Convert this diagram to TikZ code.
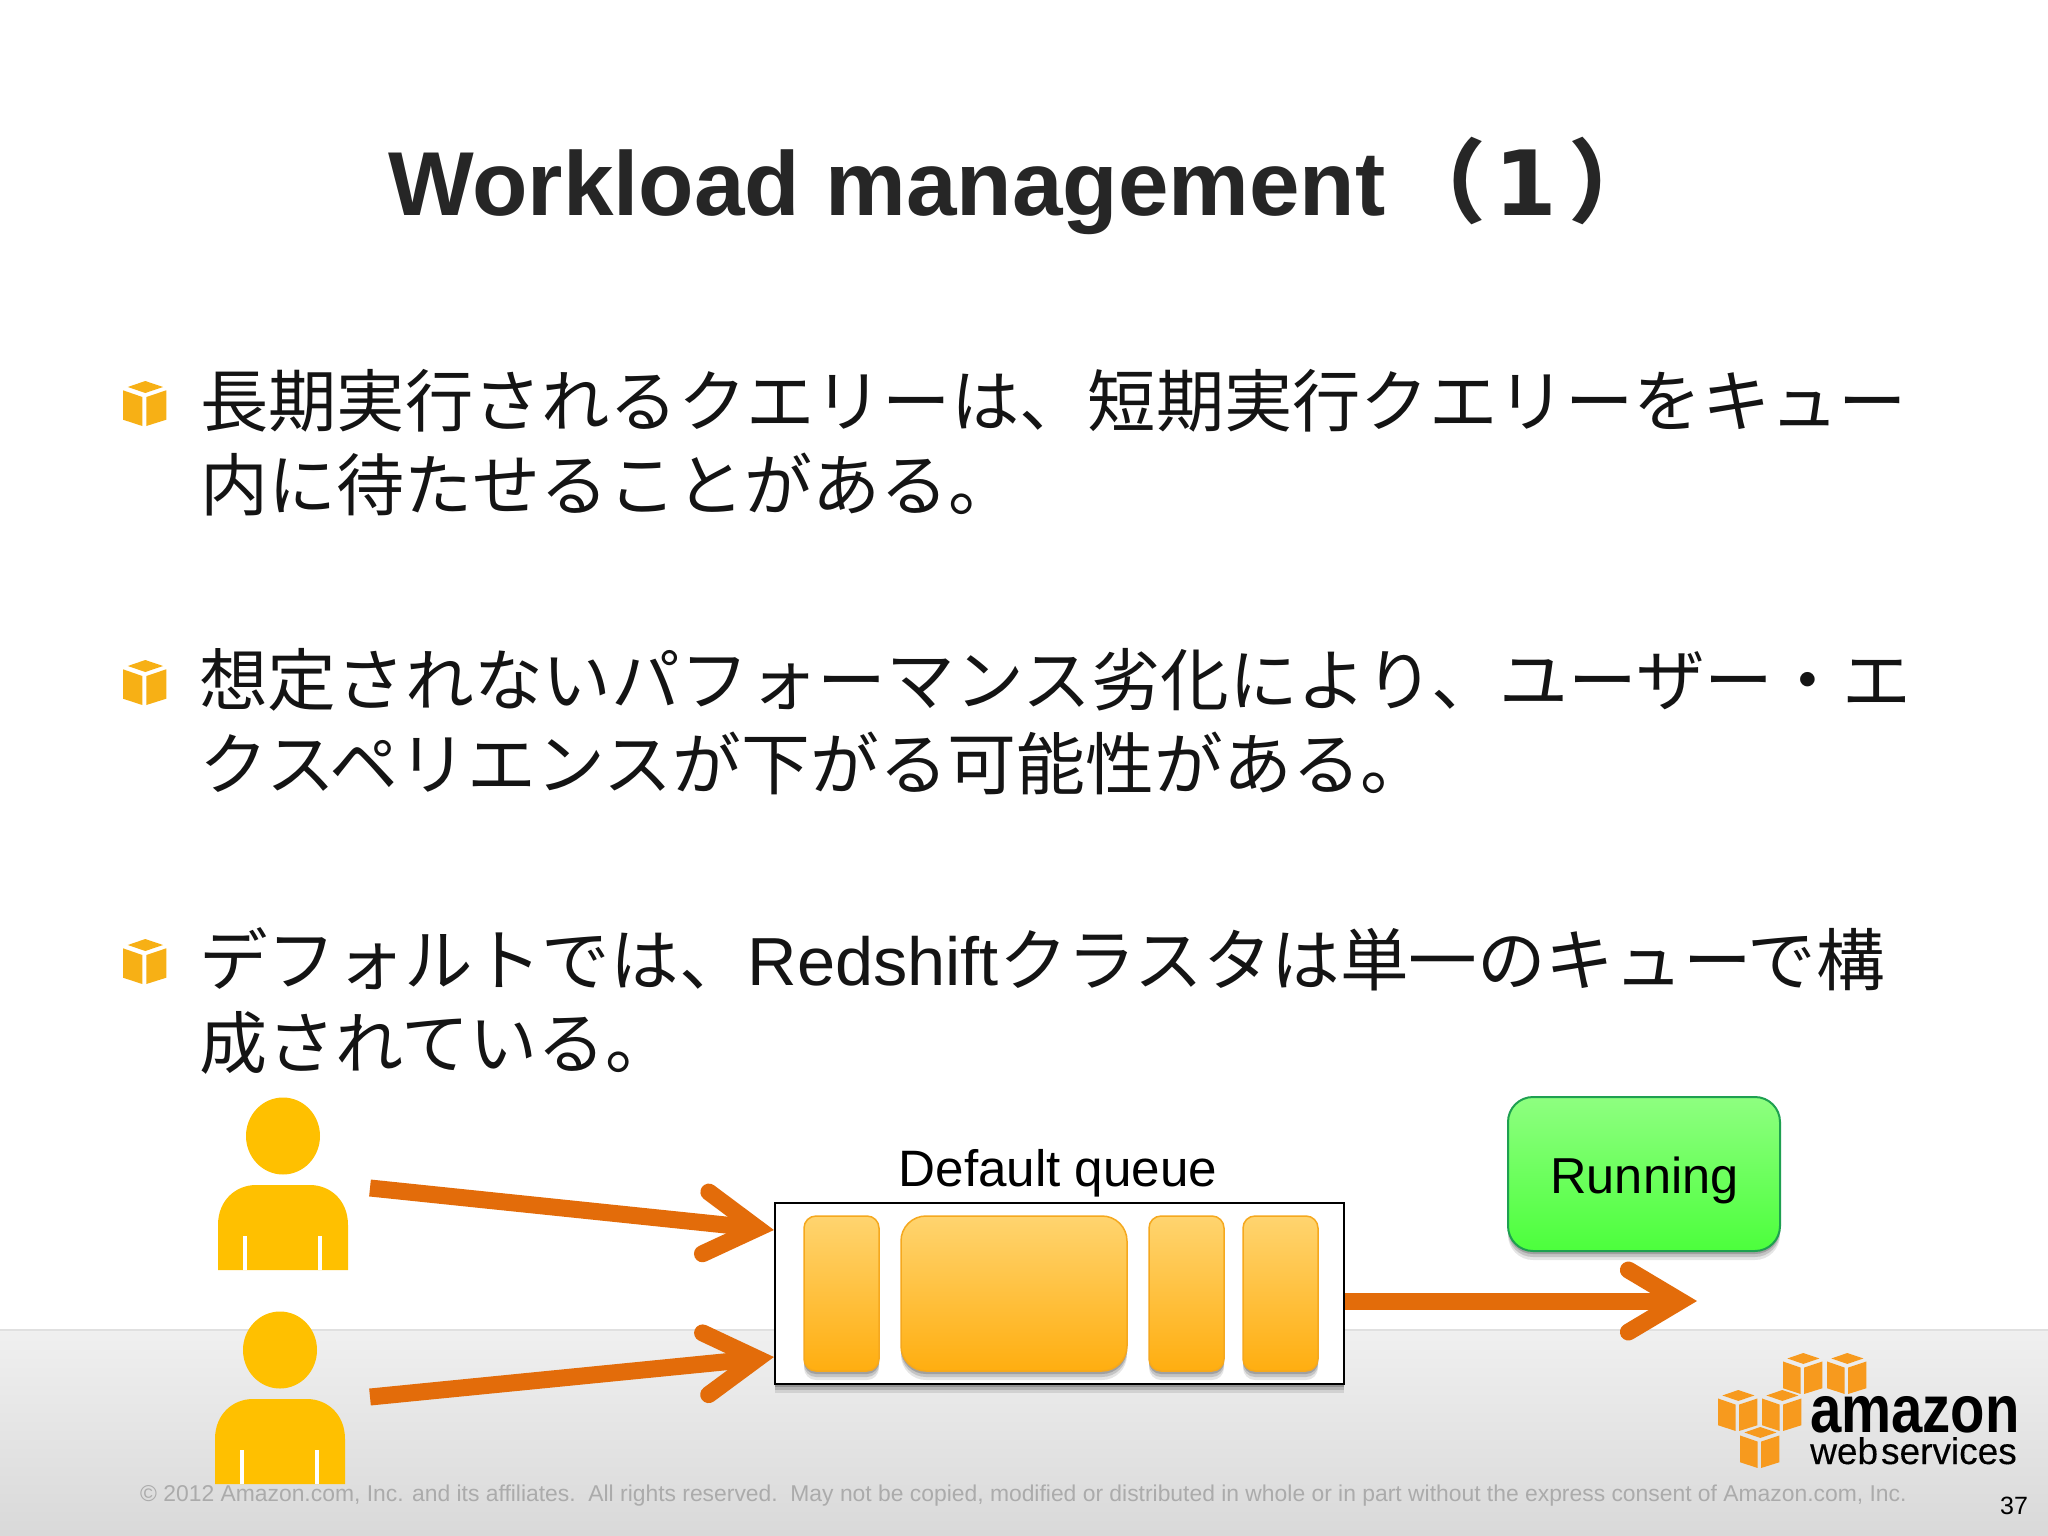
\documentclass[tikz,border=0pt]{standalone}
\usepackage{fontspec}
\setmainfont{Liberation Sans}
\newfontfamily\jpf{Noto Sans CJK JP}
\newfontfamily\numf{DejaVu Sans}
\usetikzlibrary{arrows.meta,shadows}
\definecolor{arrowc}{HTML}{E36C0A}
\definecolor{personc}{HTML}{FFC000}
\definecolor{barline}{HTML}{F5A81E}
\definecolor{bullc}{HTML}{F7B015}
\definecolor{awsc}{HTML}{F79A1E}
\definecolor{ffd}{HTML}{FFD46F}
\definecolor{ffb}{HTML}{FFAE10}
\definecolor{gnt}{HTML}{8EFF80}
\definecolor{gnb}{HTML}{4CFF3C}
\newcommand{\fs}[1]{\fontsize{#1}{#1}\selectfont}
\tikzset{
  x=1pt,y=-1pt,
  flow/.style={draw=arrowc,line width=17pt,-{Straight Barb[length=52pt,width=62pt,line cap=round,line join=miter]}},
  softshadow/.style={
    general shadow={shadow xshift=0pt,shadow yshift=-9pt,opacity=.10,fill=black},
    general shadow={shadow xshift=0pt,shadow yshift=-6pt,opacity=.14,fill=black},
    general shadow={shadow xshift=0pt,shadow yshift=-3pt,opacity=.18,fill=black}},
  qbar/.style={draw=barline,line width=1.5pt,top color=ffd,bottom color=ffb,minimum height=155pt,inner sep=0pt,softshadow},
  bodyline/.style={anchor=base west,inner sep=0pt,font=\fs{68}\jpf,text=black!92},
  pics/awscube/.style={code={
    \fill[#1] (0,9.3) -- (19.3,16) -- (19.3,45) -- (0,38.7) -- cycle;
    \fill[#1] (23.3,16) -- (43.3,9.3) -- (43.3,38.7) -- (23.3,45) -- cycle;
    \fill[#1] (4.8,6) -- (22.3,0) -- (40,6) -- (22.3,12) -- cycle;
  }},
  pics/person/.style={code={
    \fill[personc] (65,-49) ellipse [x radius=37,y radius=38.5];
    \fill[personc] (0,85) -- (0,40) .. controls (0,15) and (18,0) .. (38,0) -- (92,0) .. controls (112,0) and (130,15) .. (130,40) -- (130,85) -- cycle;
    \fill[white] (25,51) rectangle (29,85);
    \fill[white] (100,51) rectangle (104,85);
  }}
}
\begin{document}
\begin{tikzpicture}
\useasboundingbox (0,0) rectangle (2048,1536);
\fill[white] (0,0) rectangle (2048,1536);
% footer band
\shade[top color=black!6,bottom color=black!15,shading angle=0] (0,1330) rectangle (2048,1536);
\draw[black!12,line width=1.5pt] (0,1330) -- (2048,1330);
% title
\node[anchor=base west,inner sep=0pt,font=\fs{90.8}\bfseries,text=black!85] (title) at (388,215) {Workload management\hspace{10pt}{\jpf\bfseries （}\hspace{8pt}{\numf\bfseries\fs{90}1}\hspace{12pt}{\jpf\bfseries ）}};
% bullets
\pic at (123,381) {awscube=bullc};
\pic at (123,660) {awscube=bullc};
\pic at (123,939) {awscube=bullc};
% body
\node[bodyline,xscale=1.004] (l1a) at (200,426) {長期実行されるクエリーは、短期実行クエリーをキュー};
\node[bodyline] (l1b) at (200,510) {内に待たせることがある。};
\node[bodyline,xscale=1.011] (l2a) at (199,705) {想定されないパフォーマンス劣化により、ユーザー・エ};
\node[bodyline,xscale=1.012] (l2b) at (199,789) {クスペリエンスが下がる可能性がある。};
\node[bodyline,xscale=1.008] (l3a) at (199,985) {デフォルトでは、{\fontspec{Liberation Sans}Redshift}クラスタは単一のキューで構};
\node[bodyline] (l3b) at (199,1068) {成されている。};
% people
\pic at (218,1185) {person};
\pic at (215,1399) {person};
% queue
\node[draw=black,line width=2.2pt,fill=white,minimum width=569pt,minimum height=181pt,inner sep=0pt,softshadow] (queue) at (1059.5,1293.5) {};
\node[qbar,minimum width=75pt,rounded corners=12pt] (b1) at (841.5,1293.5) {};
\node[qbar,minimum width=226pt,rounded corners=25pt] (b2) at (1014,1293.5) {};
\node[qbar,minimum width=75pt,rounded corners=12pt] (b3) at (1186.5,1293.5) {};
\node[qbar,minimum width=75pt,rounded corners=12pt] (b4) at (1280.5,1293.5) {};
\node[anchor=base,inner sep=0pt,font=\fs{51.2}] (qlabel) at (1058,1186) {Default queue};
% running
\node[draw={rgb,255:red,30;green,160;blue,80},line width=2pt,top color=gnt,bottom color=gnb,minimum width=272pt,minimum height=154pt,rounded corners=25pt,inner sep=0pt,softshadow] (run) at (1644,1174) {};
\node[anchor=base,inner sep=0pt,font=\fs{50.5}] (runlabel) at (1644.5,1193) {Running};
% connectors
\coordinate (src1) at (370,1188);
\coordinate (src2) at (370,1397);
\coordinate (qin1) at (queue.west |- 0,1230);
\coordinate (qin2) at (queue.west |- 0,1357);
\coordinate (qout) at (queue.east |- 0,1301);
\coordinate (runin) at (1697,1301);
\draw[flow] (src1) -- (qin1);
\draw[flow] (src2) -- (qin2);
\draw[flow] (qout) -- (runin);
% logo
\pic[scale=.91] at (1783,1353) {awscube=awsc};
\pic[scale=.91] at (1827,1353) {awscube=awsc};
\pic[scale=.91] at (1718,1390) {awscube=awsc};
\pic[scale=.91] at (1762,1390) {awscube=awsc};
\pic[scale=.91] at (1740,1427) {awscube=awsc};
\node[anchor=base west,inner sep=0pt,font=\fs{67}\bfseries,xscale=.84] (amazon) at (1810,1432) {amazon};
\node[anchor=base west,inner sep=0pt,font=\fs{37}\addfontfeature{FakeBold=0.25}] (ws) at (1810,1464) {web\hspace{3pt}services};
% footer text
\node[anchor=base west,inner sep=0pt,font=\fs{22.87},text=black!33] (copy) at (140,1501) {© 2012 Amazon.com, Inc. and its affiliates.\ \ All rights reserved.\ \ May not be copied, modified or distributed in whole or in part without the express consent of Amazon.com, Inc.};
\node[anchor=base west,inner sep=0pt,font=\fs{25}] (pnum) at (2000,1514) {37};
\end{tikzpicture}
\end{document}
